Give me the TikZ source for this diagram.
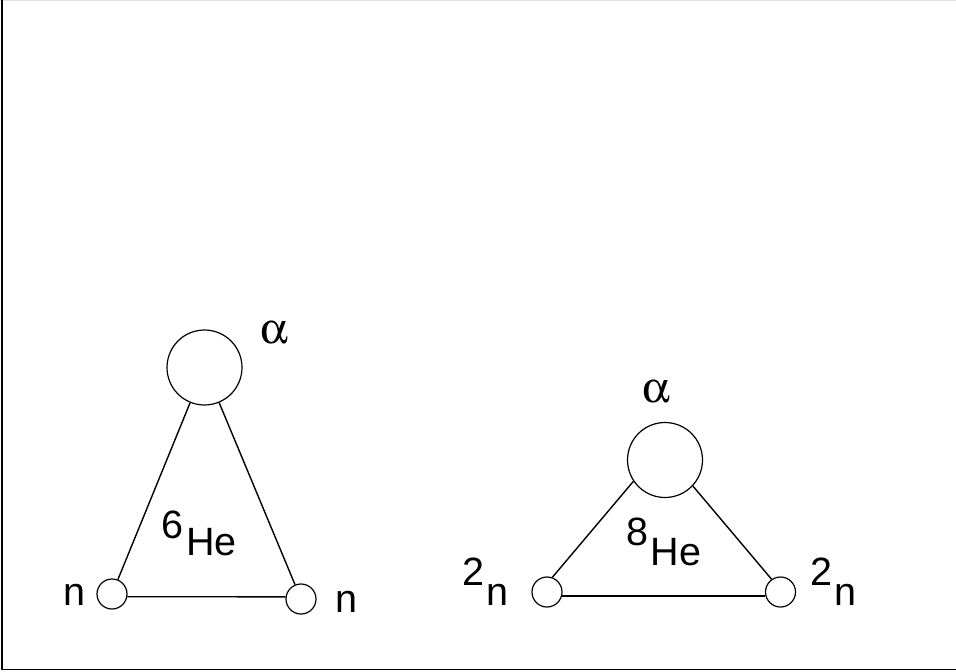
\documentclass[tikz,border=0pt]{standalone}
\usepackage{graphicx}
\usepackage[Symbol]{upgreek}
\usepackage{fontspec}
\setmainfont{Liberation Sans}
\begin{document}
\begin{tikzpicture}[x=1pt,y=-1pt,
  bigball/.style={circle,draw,line width=1.2pt,minimum size=75pt,inner sep=0pt},
  smallball/.style={circle,draw,line width=1.2pt,minimum size=30pt,inner sep=0pt},
  bond/.style={line width=1.4pt},
  lbl/.style={inner sep=0pt,font=\fontsize{39.5}{42}\selectfont},
  alp/.style={inner sep=0pt}]
\useasboundingbox (0,0) rectangle (956,672);
\draw[black!12,line width=1pt] (0,0.5) -- (956,0.5);
\draw[line width=1.5pt] (2,0) -- (2,669.5) -- (956,669.5);
% 6He
\node[bigball] (a1) at (204.5,367.5) {};
\node[smallball] (l1) at (112,594) {};
\node[smallball] (r1) at (301,599) {};
\draw[bond] (a1) -- (l1);
\draw[bond] (a1) -- (r1);
\draw[bond] (l1.-10) -- (r1.172);
\node[alp,anchor=base] (al1) at (274,343) {\scalebox{4.4}{$\upalpha$}};
\node[lbl,anchor=base west] (he6) at (161,555) {\raisebox{17pt}{6}\kern3pt He};
\node[lbl,anchor=base west] (n1) at (63,605) {n};
\node[lbl,anchor=base west] (n2) at (335,612) {n};
% 8He
\node[bigball] (a2) at (665,460) {};
\node[smallball] (l2) at (547,592) {};
\node[smallball] (r2) at (780.5,592) {};
\draw[bond] (a2.214) -- (l2.70);
\draw[bond] (a2.317) -- (r2.125);
\draw[bond] (l2.-15) -- (r2.195);
\node[alp,anchor=base] (al2) at (656.5,402) {\scalebox{4.4}{$\upalpha$}};
\node[lbl,anchor=base west] (he8) at (626.5,565) {\raisebox{20pt}{8}\kern2pt He};
\node[lbl,anchor=base west] (tn1) at (462,605) {\raisebox{20pt}{2}\kern2pt n};
\node[lbl,anchor=base west] (tn2) at (810,605) {\raisebox{20pt}{2}\kern2pt n};
\end{tikzpicture}
\end{document}
